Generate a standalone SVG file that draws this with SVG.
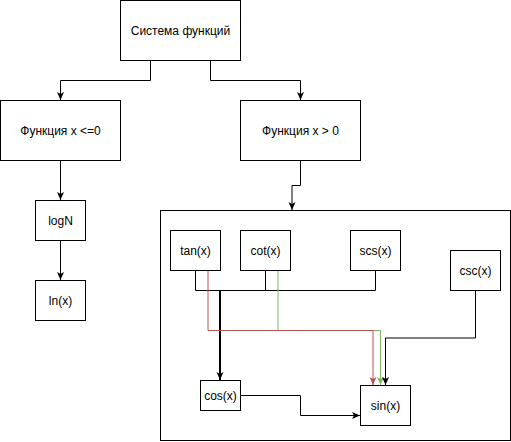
<svg xmlns="http://www.w3.org/2000/svg" width="511" height="442" viewBox="0 0 511 442">
<style>
.box{fill:#fff;stroke:#000;stroke-width:1}
.lbl{font-family:"Liberation Sans",Arial,sans-serif;font-size:12px;fill:#000;text-anchor:middle}
.e{fill:none;stroke:#000;stroke-width:1}
.thick{stroke-width:2}
.red{stroke:#b85450}
.green{stroke:#82b366}
</style>
<defs>
<marker id="a" viewBox="0 0 10 10" refX="9" refY="5" markerWidth="10" markerHeight="10" markerUnits="userSpaceOnUse" orient="auto"><path d="M1,1.5 L9,5 L1,8.5 L3,5 Z" fill="#000"/></marker>
<marker id="ar" viewBox="0 0 10 10" refX="9" refY="5" markerWidth="10" markerHeight="10" markerUnits="userSpaceOnUse" orient="auto"><path d="M1,1.5 L9,5 L1,8.5 L3,5 Z" fill="#b85450"/></marker>
<marker id="ag" viewBox="0 0 10 10" refX="9" refY="5" markerWidth="10" markerHeight="10" markerUnits="userSpaceOnUse" orient="auto"><path d="M1,1.5 L9,5 L1,8.5 L3,5 Z" fill="#82b366"/></marker>
</defs>
<rect width="511" height="442" fill="#fff"/>
<g id="container"><rect class="box" x="160.5" y="210.5" width="350" height="230"/></g>
<g id="connectors">
<path class="e" d="M150.5,60.5 V80.5 H60.5 V100" marker-end="url(#a)"/>
<path class="e" d="M210.5,60.5 V80.5 H300.5 V100" marker-end="url(#a)"/>
<path class="e" d="M60.5,160.5 V200" marker-end="url(#a)"/>
<path class="e" d="M60.5,240.5 V280" marker-end="url(#a)"/>
<path class="e" d="M300.5,160.5 V185.5 H292 V210" marker-end="url(#a)"/>
<path class="e" d="M195.5,270.5 V290.5 H375.5 V270.5"/>
<path class="e" d="M265.5,270.5 V290.5"/>
<path class="e thick" d="M220,290.5 V380" marker-end="url(#a)"/>
<path class="e green" d="M278,270.5 V330.5 H380.5 V385" marker-end="url(#ag)"/>
<path class="e red" d="M208,270.5 V330.5 H373 V385" marker-end="url(#ar)"/>
<path class="e" d="M475.5,290.5 V338 H385.5 V385" marker-end="url(#a)"/>
<path class="e" d="M240.5,395.5 H300.5 V415.5 H360" marker-end="url(#a)"/>
</g>
<g id="sys"><rect class="box" x="120.5" y="0.5" width="120" height="60"/><text class="lbl" x="180.5" y="34.5">Система функций</text></g>
<g id="fneg"><rect class="box" x="0.5" y="100.5" width="120" height="60"/><text class="lbl" x="60.5" y="134.5">Функция x &lt;=0</text></g>
<g id="fpos"><rect class="box" x="240.5" y="100.5" width="120" height="60"/><text class="lbl" x="300.5" y="134.5">Функция x &gt; 0</text></g>
<g id="logN"><rect class="box" x="35.5" y="200.5" width="50" height="40"/><text class="lbl" x="60.5" y="224.5">logN</text></g>
<g id="ln"><rect class="box" x="35.5" y="280.5" width="50" height="40"/><text class="lbl" x="60.5" y="304.5">ln(x)</text></g>
<g id="tan"><rect class="box" x="170.5" y="230.5" width="50" height="40"/><text class="lbl" x="195.5" y="254.5">tan(x)</text></g>
<g id="cot"><rect class="box" x="240.5" y="230.5" width="50" height="40"/><text class="lbl" x="265.5" y="254.5">cot(x)</text></g>
<g id="scs"><rect class="box" x="350.5" y="230.5" width="50" height="40"/><text class="lbl" x="375.5" y="254.5">scs(x)</text></g>
<g id="csc"><rect class="box" x="450.5" y="250.5" width="50" height="40"/><text class="lbl" x="475.5" y="274.5">csc(x)</text></g>
<g id="cos"><rect class="box" x="200.5" y="380.5" width="40" height="30"/><text class="lbl" x="220.5" y="399.5">cos(x)</text></g>
<g id="sin"><rect class="box" x="360.5" y="385.5" width="50" height="40"/><text class="lbl" x="385.5" y="409.5">sin(x)</text></g>
</svg>
